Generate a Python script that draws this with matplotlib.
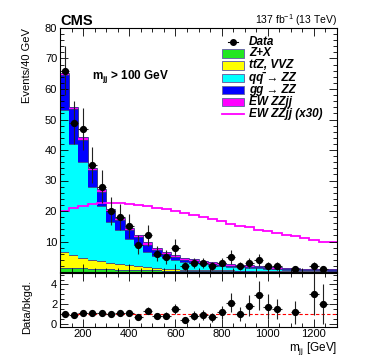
import numpy as np
import matplotlib
matplotlib.use("Agg")
import matplotlib.pyplot as plt
from matplotlib.ticker import MultipleLocator
from matplotlib.patches import Rectangle
from matplotlib.lines import Line2D

plt.rcParams['font.family'] = ['Liberation Sans', 'DejaVu Sans']
plt.rcParams['mathtext.fontset'] = 'custom'
plt.rcParams['mathtext.rm'] = 'Liberation Sans:bold'
plt.rcParams['mathtext.bf'] = 'Liberation Sans:bold'
plt.rcParams['mathtext.it'] = 'Liberation Sans:bold:italic'
plt.rcParams['mathtext.sf'] = 'Liberation Sans'

# ---- data (bins of 40 GeV from 100 to 1300) ----
bin_edges = np.arange(100, 1301, 40)
zx = [1.4, 1.3, 1.2, 1.1, 1.0, 0.9, 0.8, 0.7, 0.6, 0.55, 0.5, 0.45, 0.4, 0.35, 0.3,
      0.3, 0.25, 0.25, 0.2, 0.2, 0.2, 0.15, 0.15, 0.15, 0.1, 0.1, 0.1, 0.1, 0.1, 0.1]
ttz_vvz = [5.0, 4.3, 3.5, 2.9, 2.5, 2.1, 1.8, 1.5, 1.3, 1.05, 0.8, 0.65, 0.5, 0.45, 0.4,
           0.35, 0.35, 0.3, 0.3, 0.25, 0.2, 0.2, 0.2, 0.15, 0.2, 0.15, 0.15, 0.15, 0.1, 0.1]
qqzz = [46.7, 36.5, 31.4, 23.8, 18.3, 13.5, 11.2, 8.6, 7.0, 5.1, 4.0, 3.4, 3.0, 2.5, 2.2,
        1.85, 1.6, 1.45, 1.2, 1.05, 1.0, 0.85, 0.75, 0.6, 0.5, 0.45, 0.35, 0.3, 0.3, 0.25]
ggzz = [11.6, 11.3, 7.3, 5.6, 4.5, 3.4, 3.2, 3.0, 2.6, 2.3, 1.8, 1.5, 0.95, 0.75, 0.7,
        0.5, 0.5, 0.45, 0.4, 0.4, 0.3, 0.3, 0.25, 0.2, 0.15, 0.15, 0.12, 0.1, 0.1, 0.1]
ew_zzjj_x30 = [19.9, 21.0, 21.8, 22.3, 22.6, 22.7, 22.7, 22.3, 22.0, 21.6, 21.0, 20.6, 19.9,
               19.3, 18.6, 17.9, 17.3, 16.6, 15.9, 15.2, 14.6, 13.9, 13.3, 12.8, 12.2, 11.7,
               11.1, 10.6, 10.0, 9.7]
data = [66, 49, 47, 35, 28, 20, 18, 15, 9, 12, 6, 5, 8, 2, 3, 3, 2, 3, 5, 2, 3, 4, 2, 2,
        0, 1, 0, 2, 1, 0]
ratio = [1.0, 0.9, 1.07, 1.05, 1.07, 0.98, 1.07, 1.13, 0.73, 1.35, 0.8, 0.8, 1.48, 0.39,
         0.8, 0.87, 0.67, 1.17, 2.15, 0.98, 1.83, 2.88, 1.75, 1.48, np.nan, 1.17, np.nan,
         2.98, 2.03, np.nan]

x_ticks = [200, 400, 600, 800, 1000, 1200]

edges = np.asarray(bin_edges, float)
centers = 0.5 * (edges[:-1] + edges[1:])
halfw = 0.5 * (edges[1:] - edges[:-1])
ew = np.asarray(ew_zzjj_x30) / 30.0

W, H = 374, 363
fig = plt.figure(figsize=(W / 100, H / 100), dpi=100)
ax = fig.add_axes([60 / W, (H - 272) / H, 277 / W, 244 / H])
axr = fig.add_axes([60 / W, (H - 326.7) / H, 277 / W, 54 / H])

# stacked histogram
comps = [(zx, '#22e622'), (ttz_vvz, '#ffff00'), (qqzz, '#00ffff'),
         (ggzz, '#0000ff'), (ew, '#ff00ff')]
base = np.zeros(len(centers))
edgec = '#353590'
for vals, col in comps:
    top = base + np.asarray(vals, float)
    ax.stairs(top, edges, baseline=base, fill=True, color=col, lw=0)
    ax.stairs(top, edges, baseline=None, color=edgec, lw=0.6)
    base = top

ax.stairs(np.asarray(ew_zzjj_x30), edges, baseline=None, color='#ff00ff', lw=1.3)

d = np.asarray(data, float)
m = d > 0
ax.errorbar(centers[m], d[m], xerr=halfw[m], yerr=np.sqrt(d[m]), fmt='o', color='black',
            ms=4.2, elinewidth=0.8, capsize=0, ecolor='#222222')

ax.set_xlim(100, 1300)
ax.set_ylim(0, 80)
ax.set_yticks(np.arange(10, 81, 10))
ax.yaxis.set_minor_locator(MultipleLocator(2))
ax.set_xticks(x_ticks)
ax.xaxis.set_minor_locator(MultipleLocator(50))
ax.set_xticklabels([])

for a in (ax, axr):
    a.tick_params(which='both', direction='in', top=True, right=True, labelsize=8, pad=2)
    a.tick_params(which='major', length=6, width=0.6)
    a.tick_params(which='minor', length=3, width=0.6)
    for s in a.spines.values():
        s.set_linewidth(0.8)

# ratio panel
r = np.asarray(ratio, float)
mr = np.isfinite(r)
axr.axhline(1.0, color='red', ls=(0, (3, 2)), lw=0.8)
axr.errorbar(centers[mr], r[mr], xerr=halfw[mr], yerr=r[mr] / np.sqrt(d[mr]), fmt='o',
             color='black', ms=4.2, elinewidth=0.8, capsize=0, ecolor='#222222')
axr.set_xlim(100, 1300)
axr.set_ylim(-0.3, 5.2)
axr.set_yticks([0, 2, 4])
axr.yaxis.set_minor_locator(MultipleLocator(0.5))
axr.set_xticks(x_ticks)
axr.xaxis.set_minor_locator(MultipleLocator(50))

# texts
fig.text(60 / W, (H - 25) / H, 'CMS', fontsize=10.5, fontweight='bold', va='baseline', ha='left')
fig.text(337 / W, (H - 24) / H, r'137 fb$^{\mathsf{-1}}$ (13 TeV)', fontsize=7.5,
         va='baseline', ha='right')
fig.text(27 / W, (H - 28) / H, 'Events/40 GeV', rotation=90, fontsize=8, ha='center', va='top')
fig.text(27 / W, (H - 306.5) / H, 'Data/bkgd.', rotation=90, fontsize=8, ha='center',
         va='center')
fig.text(337 / W, (H - 340) / H, r'm$_{\mathsf{jj}}$ [GeV]', fontsize=8.5, ha='right', va='top')
ax.text((92 - 60) / 277, (272 - 77) / 244, r'm$_{\mathrm{jj}}$ > 100 GeV', transform=ax.transAxes,
        fontsize=8.5, fontweight='bold', va='center', ha='left')

# legend (manual)
labels = ['Data', 'Z+X', 'tt\u0304Z, VVZ', 'qq\u0304 \u2192 ZZ',
          'gg \u2192 ZZ', 'EW ZZjj', 'EW ZZjj (x30)']
rows_y = [42, 53.5, 65.5, 78, 90, 102, 114]
bx0, bx1 = 222, 244
tr = ax.transAxes
def fx(x):
    return (x - 60) / 277
def fy(y):
    return (272 - y) / 244
box_cols = ['#22e622', '#ffff00', '#00ffff', '#0000ff', '#ff00ff']
for i, (lab, yy) in enumerate(zip(labels, rows_y)):
    if i == 0:
        ax.add_line(Line2D([fx(228), fx(238)], [fy(yy), fy(yy)], color='black', lw=0.8,
                           transform=tr))
        ax.add_line(Line2D([fx(233)], [fy(yy)], marker='o', ms=4, color='black', transform=tr))
    elif i <= 5:
        ax.add_patch(Rectangle((fx(bx0), fy(yy + 4.2)), fx(bx1) - fx(bx0), 8.4 / 244,
                               transform=tr, facecolor=box_cols[i - 1], edgecolor='#6a6aa8',
                               lw=0.7))
    else:
        ax.add_line(Line2D([fx(bx0), fx(bx1)], [fy(yy), fy(yy)], color='#ff00ff', lw=1.3,
                           transform=tr))
    ax.text(fx(249), fy(yy), lab, transform=tr, fontsize=8.5, fontweight='bold',
            fontstyle='italic', va='center', ha='left')

fig.savefig('out.png', dpi=100)
